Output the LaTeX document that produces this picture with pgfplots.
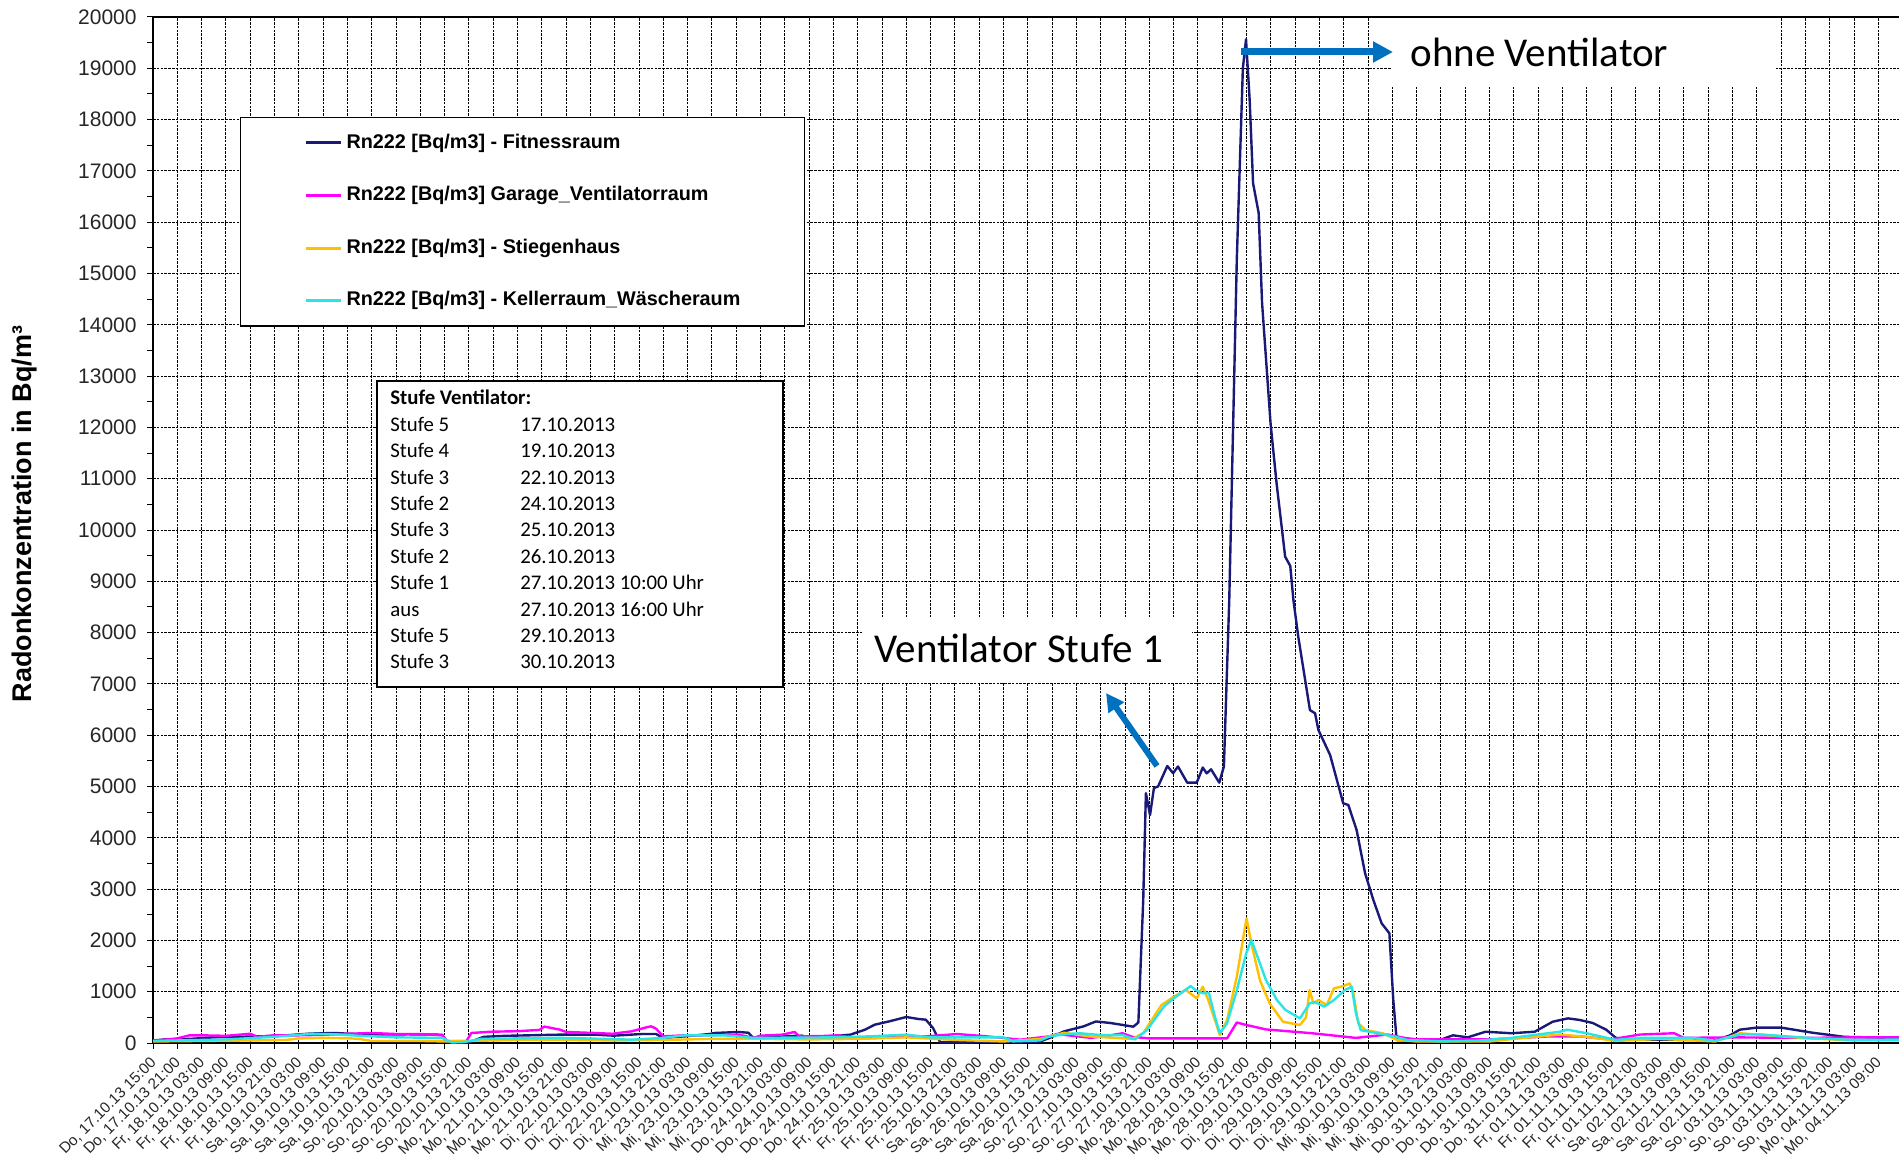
\documentclass[border=0pt]{standalone}
\usepackage{pgfplots}
\pgfplotsset{compat=1.18}
\usepackage{pgfplotstable}
\usetikzlibrary{arrows.meta}
\usepackage{fontspec}
\setmainfont{Liberation Sans}
\newfontfamily\calibri{Carlito}
\definecolor{fit}{RGB}{25,25,120}
\definecolor{gar}{RGB}{255,0,255}
\definecolor{sti}{RGB}{255,192,0}
\definecolor{kel}{RGB}{40,230,230}
\definecolor{arr}{RGB}{0,112,192}

\pgfplotstableread{
x y
0 50
0.5 70
1.5 80
2.5 110
3.5 120
4.5 130
5.5 150
6.5 185
7.5 195
8.5 170
9.5 165
10.5 170
11.5 165
11.9 160
12.1 10
13.0 10
13.6 120
14.5 140
15.5 150
16.75 163
18.2 163
18.95 143
20.1 175
20.7 175
21.0 100
21.9 130
22.9 175
23.1 195
24.1 215
24.5 200
24.7 100
25.6 125
26.7 143
27.0 110
27.9 130
28.7 163
29.3 260
29.7 357
30.3 422
31.0 507
31.5 468
31.8 455
32.1 292
32.3 100
32.4 13
33.5 13
35.0 32
35.7 13
36.5 30
36.9 100
37.5 228
38.3 325
38.8 420
39.4 390
39.93 350
40.34 318
40.55 400
40.75 2788
40.86 4870
41.03 4444
41.19 4970
41.36 5000
41.74 5400
41.98 5260
42.18 5390
42.56 5075
42.95 5075
43.2 5370
43.36 5256
43.54 5335
43.88 5075
44.07 5390
44.18 7020
44.29 8635
44.6 15260
44.85 19000
44.98 19565
45.13 18380
45.27 16760
45.5 16180
45.64 14430
45.99 12075
46.24 10900
46.59 9480
46.8 9300
46.93 8635
47.13 7920
47.61 6490
47.82 6427
47.96 6100
48.44 5614
48.98 4672
49.19 4640
49.53 4152
49.88 3308
50.22 2788
50.56 2333
50.88 2138
51.04 838
51.18 58
52 40
52.8 30
53.2 100
53.5 150
54.1 110
54.84 220
55.9 190
56.86 220
57.6 415
58.23 480
58.7 450
59.25 390
59.8 260
60.2 100
61 70
63.3 60
64.3 50
64.9 150
65.3 260
66 300
67 300
68.3 200
69.6 120
71.6 100
73 100
}\fitness

\pgfplotstableread{
x y
0 40
1 90
1.5 150
2 150
3 140
4 180
4.3 120
5 150
6 150
7 160
8 180
9 195
10 175
11 175
11.9 150
12.1 40
12.9 40
13.1 195
13.9 220
15 230
15.9 255
16.1 320
16.75 260
17.0 215
18.2 195
18.9 180
19.7 228
20.3 305
20.5 325
20.7 280
21.0 130
21.9 150
22.6 150
24.1 163
24.7 100
25.0 143
25.9 163
26.4 215
26.6 130
27.5 135
28.2 150
29 85
30.5 117
31.8 130
33.1 175
34.3 130
35.7 65
36.9 130
37.2 175
38.6 100
39.4 150
39.9 190
40.3 120
41 90
44.2 90
44.6 400
45.0 350
45.8 265
47.7 190
49.5 100
50.8 165
51.5 100
52 70
55 70
57.5 130
58.7 130
60 70
61.2 165
62.6 190
63 100
65 110
68 100
70 110
73 110
}\garage

\pgfplotstableread{
x y
0 30
2 40
4 50
5.5 60
6 90
7 100
8 95
8.5 78
9 40
11 40
12 30
13 40
15 60
17 60
19 50
21 60
23 80
25 80
27 70
29 80
31 110
33 60
35 30
36.5 80
37.5 200
38.5 130
40.3 80
40.75 190
41.5 740
42.0 900
42.5 1033
42.95 870
43.2 1097
43.4 870
43.7 448
43.9 155
44.2 448
44.6 1292
45.0 2430
45.2 1943
45.55 1228
45.95 774
46.5 415
47.2 350
47.45 500
47.6 1033
47.75 774
47.96 838
48.3 740
48.6 1065
48.98 1110
49.25 1160
49.4 970
49.6 384
49.9 250
50.6 190
51.2 60
52 30
55 30
56 80
57.9 165
59 120
60.2 40
62 80
64.3 30
65.3 190
66.2 160
68.1 90
70 50
73 50
}\stiegen

\pgfplotstableread{
x y
0 40
1 50
3 70
5 120
6.5 180
7.5 170
8.5 140
10 110
11.9 100
12.3 10
12.8 20
13.5 80
15 90
16.75 100
18.2 85
19.7 65
21 100
21.9 150
23.5 150
24.7 100
28 110
29.5 130
31.0 163
32 110
35 110
35.4 32
36.5 50
36.9 130
37.6 175
38.15 190
39 155
39.9 155
40.4 70
40.9 250
41.6 710
42.0 870
42.7 1110
42.9 1035
43.2 970
43.45 980
43.7 513
43.9 190
44.2 384
44.6 1026
44.99 1750
45.2 2008
45.4 1750
45.8 1228
46.25 838
46.6 645
47.2 480
47.6 774
47.8 800
48.2 710
48.6 838
49.05 1033
49.33 1097
49.5 580
49.7 250
50.4 190
51.1 125
51.6 60
53 30
54.5 45
55.9 100
57.9 220
58.2 260
59 190
60.2 60
61.2 100
63.3 100
64.3 45
65.3 165
66.2 165
68.1 100
69.9 60
73 70
}\keller

\begin{document}
\begin{tikzpicture}
\begin{axis}[
  at={(0,0)}, anchor=south west, scale only axis,
  width=874.8pt, height=513pt,
  xmin=0, xmax=72, ymin=0, ymax=20000,
  scaled y ticks=false,
  xtick={0,...,71},
  xticklabels={
    {Do, 17.10.13 15:00},{Do, 17.10.13 21:00},
    {Fr, 18.10.13 03:00},{Fr, 18.10.13 09:00},{Fr, 18.10.13 15:00},{Fr, 18.10.13 21:00},
    {Sa, 19.10.13 03:00},{Sa, 19.10.13 09:00},{Sa, 19.10.13 15:00},{Sa, 19.10.13 21:00},
    {So, 20.10.13 03:00},{So, 20.10.13 09:00},{So, 20.10.13 15:00},{So, 20.10.13 21:00},
    {Mo, 21.10.13 03:00},{Mo, 21.10.13 09:00},{Mo, 21.10.13 15:00},{Mo, 21.10.13 21:00},
    {Di, 22.10.13 03:00},{Di, 22.10.13 09:00},{Di, 22.10.13 15:00},{Di, 22.10.13 21:00},
    {Mi, 23.10.13 03:00},{Mi, 23.10.13 09:00},{Mi, 23.10.13 15:00},{Mi, 23.10.13 21:00},
    {Do, 24.10.13 03:00},{Do, 24.10.13 09:00},{Do, 24.10.13 15:00},{Do, 24.10.13 21:00},
    {Fr, 25.10.13 03:00},{Fr, 25.10.13 09:00},{Fr, 25.10.13 15:00},{Fr, 25.10.13 21:00},
    {Sa, 26.10.13 03:00},{Sa, 26.10.13 09:00},{Sa, 26.10.13 15:00},{Sa, 26.10.13 21:00},
    {So, 27.10.13 03:00},{So, 27.10.13 09:00},{So, 27.10.13 15:00},{So, 27.10.13 21:00},
    {Mo, 28.10.13 03:00},{Mo, 28.10.13 09:00},{Mo, 28.10.13 15:00},{Mo, 28.10.13 21:00},
    {Di, 29.10.13 03:00},{Di, 29.10.13 09:00},{Di, 29.10.13 15:00},{Di, 29.10.13 21:00},
    {Mi, 30.10.13 03:00},{Mi, 30.10.13 09:00},{Mi, 30.10.13 15:00},{Mi, 30.10.13 21:00},
    {Do, 31.10.13 03:00},{Do, 31.10.13 09:00},{Do, 31.10.13 15:00},{Do, 31.10.13 21:00},
    {Fr, 01.11.13 03:00},{Fr, 01.11.13 09:00},{Fr, 01.11.13 15:00},{Fr, 01.11.13 21:00},
    {Sa, 02.11.13 03:00},{Sa, 02.11.13 09:00},{Sa, 02.11.13 15:00},{Sa, 02.11.13 21:00},
    {So, 03.11.13 03:00},{So, 03.11.13 09:00},{So, 03.11.13 15:00},{So, 03.11.13 21:00},
    {Mo, 04.11.13 03:00},{Mo, 04.11.13 09:00}},
  xticklabel style={font=\fontsize{7.6}{8}\selectfont, color=black!85, xshift=0.5pt, yshift=-5.5pt, rotate=45, anchor=east, inner sep=0pt},
  ytick={0,1000,...,20000}, minor y tick num=1,
  yticklabel style={font=\fontsize{10.5}{12}\selectfont, color=black!85, anchor=east, inner sep=0pt, xshift=-5pt,
    /pgf/number format/1000 sep={}, /pgf/number format/fixed, /pgf/number format/precision=0,
    /pgf/number format/assume math mode=true},
  tick pos=left, tick align=outside,
  major tick length=3pt, minor tick length=3pt,
  tick style={black, line width=0.5pt},
  axis line style={black, line width=0.6pt},
  grid=major,
  major grid style={black, line width=0.5pt, dash pattern=on 1.3pt off 0.6pt},
  ylabel={Radonkonzentration in Bq/m³},
  every axis y label/.style={at={(axis description cs:-0.0737,0.5156)}, rotate=90, anchor=center,
    font=\fontsize{13.5}{15}\selectfont\bfseries},
  legend cell align=left,
  legend style={at={(0.0497,0.9025)}, anchor=north west, draw=black, line width=0.6pt, fill=white,
    font=\fontsize{9.9}{11}\selectfont\bfseries, inner xsep=32pt, inner ysep=8pt,
    row sep=17pt, nodes={inner sep=0pt, text height=7.2pt, text depth=2.1pt}, column sep=2pt},
  legend image code/.code={\draw[#1, line width=1.5pt] (0pt,0pt) -- (17.5pt,0pt);},
  every axis plot/.append style={line width=1.2pt, line join=round},
]
\addplot[fit, no marks] table {\fitness};
\addlegendentry{Rn222 [Bq/m3] - Fitnessraum}
\addplot[gar, no marks] table {\garage};
\addlegendentry{Rn222 [Bq/m3] Garage\_Ventilatorraum}
\addplot[sti, no marks] table {\stiegen};
\addlegendentry{Rn222 [Bq/m3] - Stiegenhaus}
\addplot[kel, no marks] table {\keller};
\addlegendentry{Rn222 [Bq/m3] - Kellerraum\_Wäscheraum}
\end{axis}

% Stufe Ventilator box
\draw[black, line width=0.7pt, fill=white] (112pt,178pt) rectangle (315pt,331pt);
\begin{scope}[every node/.style={anchor=base west, inner sep=0pt, font=\calibri\fontsize{10.4}{12}\selectfont}]
\node at (118.5pt,319pt) {\bfseries Stufe Ventilator:};
\node at (118.5pt,305.8pt) {Stufe 5}; \node at (183.5pt,305.8pt) {17.10.2013};
\node at (118.5pt,292.6pt) {Stufe 4}; \node at (183.5pt,292.6pt) {19.10.2013};
\node at (118.5pt,279.4pt) {Stufe 3}; \node at (183.5pt,279.4pt) {22.10.2013};
\node at (118.5pt,266.2pt) {Stufe 2}; \node at (183.5pt,266.2pt) {24.10.2013};
\node at (118.5pt,253.0pt) {Stufe 3}; \node at (183.5pt,253.0pt) {25.10.2013};
\node at (118.5pt,239.8pt) {Stufe 2}; \node at (183.5pt,239.8pt) {26.10.2013};
\node at (118.5pt,226.6pt) {Stufe 1}; \node at (183.5pt,226.6pt) {27.10.2013 10:00 Uhr};
\node at (118.5pt,213.4pt) {aus};     \node at (183.5pt,213.4pt) {27.10.2013 16:00 Uhr};
\node at (118.5pt,200.2pt) {Stufe 5}; \node at (183.5pt,200.2pt) {29.10.2013};
\node at (118.5pt,187.0pt) {Stufe 3}; \node at (183.5pt,187.0pt) {30.10.2013};
\end{scope}

% annotation boxes
\fill[white] (619pt,478pt) rectangle (811pt,512.6pt);
\node[anchor=base west, inner sep=0pt, font=\calibri\fontsize{20.5}{24}\selectfont] at (628.5pt,488pt) {ohne Ventilator};
\draw[arr, line width=3.5pt, -{Triangle[length=10pt,width=10pt]}] (544pt,495.5pt) -- (620pt,495.5pt);

\fill[white] (354.5pt,180pt) rectangle (519.5pt,212.5pt);
\node[anchor=base west, inner sep=0pt, font=\calibri\fontsize{20.5}{24}\selectfont] at (360.5pt,190pt) {Ventilator Stufe 1};
\draw[arr, line width=3pt, -{Triangle[length=9pt,width=9pt]}] (502pt,138.5pt) -- (476.5pt,175pt);

\pgfresetboundingbox
\useasboundingbox (-76.5pt,-57pt) rectangle (873pt,521.5pt);
\end{tikzpicture}
\end{document}
